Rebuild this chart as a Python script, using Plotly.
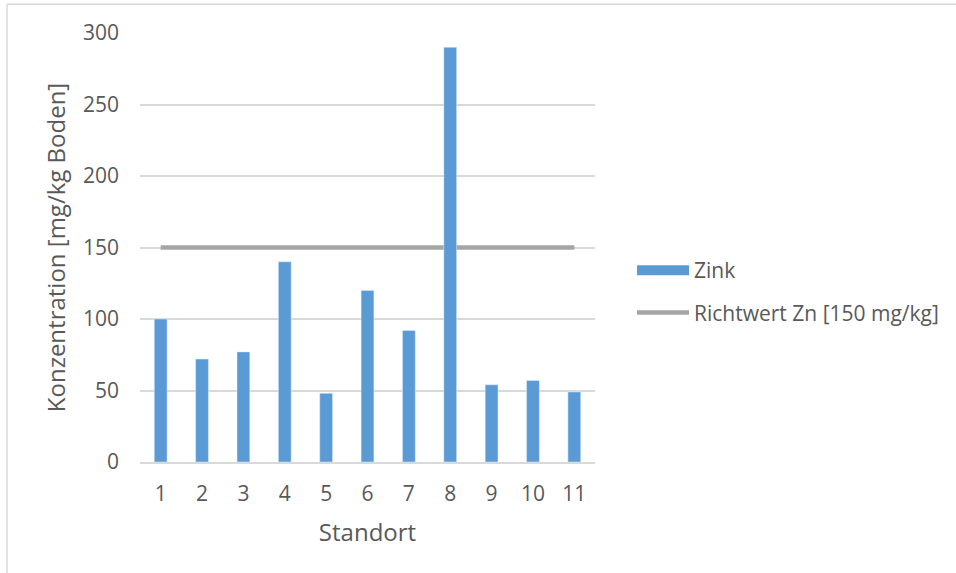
import plotly.graph_objects as go

# Zinc concentration per sampling site
standorte = ["1", "2", "3", "4", "5", "6", "7", "8", "9", "10", "11"]
zink = [100, 72, 77, 140, 48, 120, 92, 290, 54, 57, 49]
richtwert = [150] * len(standorte)

BLUE = "#5B9BD5"
GREY = "#A5A5A5"
TEXT = "#595959"
GRID = "#D9D9D9"
FONT = "Open Sans"
FS_TICK = 21
FS_TITLE = 24

W, H = 956, 573
L, R, T, B = 140, 361, 33, 111

title_font = dict(family=FONT, size=FS_TITLE, color=TEXT)

fig = go.Figure()

# bars live on an overlaying axis so they sit above the guideline
fig.add_trace(go.Bar(
    x=standorte, y=zink, name="Zink", marker_color=BLUE,
    xaxis="x", yaxis="y2", showlegend=False,
))
# legend entry for the bars (wide swatch)
fig.add_trace(go.Scatter(
    x=[None], y=[None], name="Zink", mode="lines",
    line=dict(color=BLUE, width=14), legendgroup="a",
))
fig.add_trace(go.Scatter(
    x=standorte, y=richtwert, name="Richtwert Zn [150 mg/kg]", mode="lines",
    line=dict(color=GREY, width=4.5), legendgroup="b",
))

yaxis_common = dict(range=[0, 300], fixedrange=True)

fig.update_layout(
    width=W, height=H,
    margin=dict(l=L, r=R, t=T, b=B),
    paper_bgcolor="white", plot_bgcolor="white",
    font=dict(family=FONT, size=FS_TICK, color=TEXT),
    bargap=0.69,
    xaxis=dict(
        type="category", showgrid=False, showline=True, linecolor=GRID, linewidth=2,
        ticks="outside", ticklen=12, tickcolor="rgba(0,0,0,0)",
        title=dict(text="Standort", standoff=18, font=title_font),
    ),
    yaxis=dict(
        **yaxis_common, tickvals=[0, 50, 100, 150, 200, 250, 300],
        showgrid=True, gridcolor=GRID, gridwidth=1.5, zeroline=False,
        showline=False, ticks="", ticklabelstandoff=20,
        title=dict(text="Konzentration [mg/kg Boden]", standoff=10, font=title_font),
    ),
    yaxis2=dict(
        **yaxis_common, overlaying="y", side="left", showgrid=False,
        showticklabels=False, zeroline=False, showline=False,
    ),
    legend=dict(
        x=(632 - L) / (W - L - R), y=(461.7 - 250) / (461.7 - 33.3),
        xanchor="left", yanchor="top", itemwidth=52,
        tracegroupgap=12, traceorder="grouped",
        bgcolor="rgba(0,0,0,0)", font=dict(size=FS_TICK, color=TEXT),
    ),
    shapes=[
        # outer chart frame (left and top edges)
        dict(type="line", xref="paper", yref="paper",
             x0=(7 - L) / (W - L - R), x1=(W + 20 - L) / (W - L - R),
             y0=(461.7 - 4.5) / (461.7 - 33.3), y1=(461.7 - 4.5) / (461.7 - 33.3),
             line=dict(color=GRID, width=1.5)),
        dict(type="line", xref="paper", yref="paper",
             x0=(7 - L) / (W - L - R), x1=(7 - L) / (W - L - R),
             y0=(461.7 - 4.5) / (461.7 - 33.3), y1=(461.7 - H - 20) / (461.7 - 33.3),
             line=dict(color=GRID, width=1.5)),
    ],
)

fig.write_html("out.html")
